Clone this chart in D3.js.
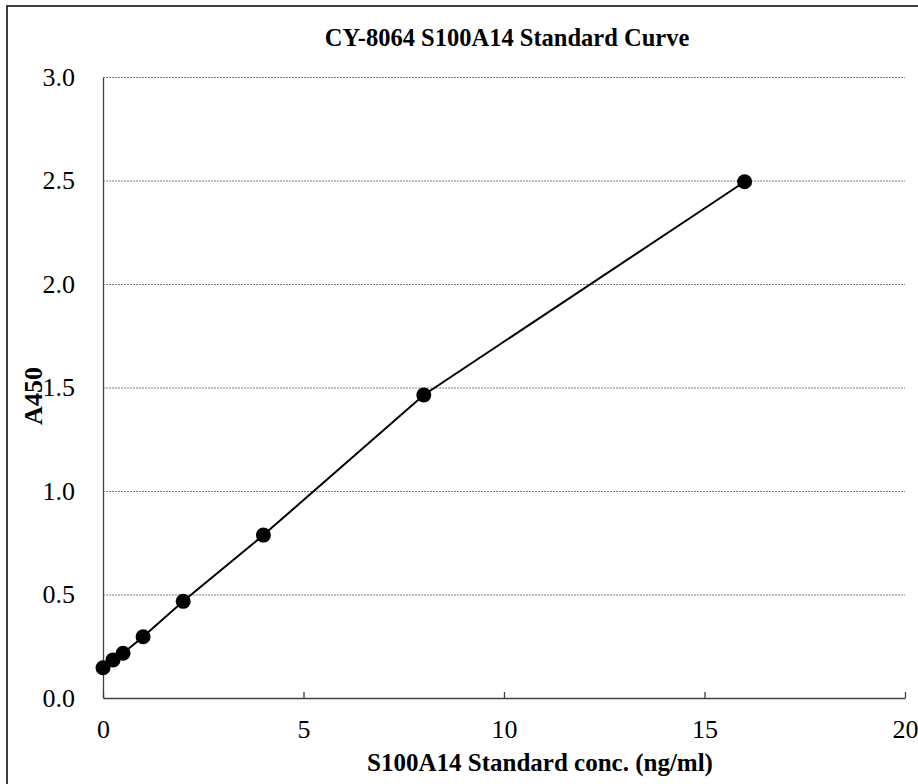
<!DOCTYPE html>
<html>
<head>
<meta charset="utf-8">
<script src="https://cdn.jsdelivr.net/npm/d3@7"></script>
<style>
  html, body { margin: 0; padding: 0; background: #fff; }
  svg text { font-family: "Liberation Serif", "Times New Roman", serif; fill: #000; }
</style>
</head>
<body>
<div id="chart"></div>
<script>
const conc = [0, 0.25, 0.5, 1, 2, 4, 8, 16];
const a450 = [0.146, 0.184, 0.216, 0.296, 0.467, 0.787, 1.464, 2.494];
const xTicks = [0, 5, 10, 15, 20];
const yTicks = [0, 0.5, 1, 1.5, 2, 2.5, 3];
const title = "CY-8064 S100A14 Standard Curve";
const xTitle = "S100A14 Standard conc. (ng/ml)";
const yTitle = "A450";

const W = 918, H = 784;
const margin = { top: 77, right: 13, bottom: 86, left: 103 };
const width = W - margin.left - margin.right;
const height = H - margin.top - margin.bottom;

const svgRoot = d3.select("#chart").append("svg").attr("width", W).attr("height", H);

// outer frame (only top and left edges fall inside the picture)
svgRoot.append("rect")
  .attr("x", 7).attr("y", 6).attr("width", W + 20).attr("height", H + 20)
  .attr("fill", "none").attr("stroke", "#000").attr("stroke-width", 1.5);

const svg = svgRoot.append("g").attr("transform", `translate(${margin.left},${margin.top})`);

const x = d3.scaleLinear().domain([0, 20]).range([0, width]);
const y = d3.scaleLinear().domain([0, 3]).range([height, 0]);

// gridlines
svg.append("g")
  .call(d3.axisLeft(y).tickValues(yTicks.slice(1)).tickSize(-width).tickFormat(""))
  .call((g) => g.select(".domain").remove())
  .selectAll("line")
  .attr("stroke", "#7f7f7f")
  .attr("stroke-dasharray", "2,1");

// y axis
const yAxisG = svg.append("g")
  .call(d3.axisLeft(y).tickValues(yTicks).tickSize(0).tickPadding(28).tickFormat(d3.format(".1f")));
yAxisG.select(".domain").attr("stroke", "#404040").attr("stroke-width", 1.3);
yAxisG.selectAll("text").style("font-size", "26px");

// x axis
const xAxisG = svg.append("g")
  .attr("transform", `translate(0,${height})`)
  .call(d3.axisBottom(x).tickValues(xTicks).tickSizeInner(-6).tickSizeOuter(0).tickPadding(22));
xAxisG.select(".domain").attr("stroke", "#404040").attr("stroke-width", 1.3);
xAxisG.selectAll(".tick line").attr("stroke", "#404040").attr("stroke-width", 1.3);
xAxisG.selectAll("text").style("font-size", "26px");

const pts = conc.map((c, i) => ({ c, v: a450[i] }));

svg.append("path")
  .datum(pts)
  .attr("fill", "none")
  .attr("stroke", "#000")
  .attr("stroke-width", 2)
  .attr("d", d3.line().x((d) => x(d.c)).y((d) => y(d.v)));

svg.selectAll(".dot")
  .data(pts)
  .join("circle")
  .attr("class", "dot")
  .attr("cx", (d) => x(d.c))
  .attr("cy", (d) => y(d.v))
  .attr("r", 7.5)
  .attr("fill", "#000");

svgRoot.append("text")
  .attr("x", 507).attr("y", 46)
  .attr("text-anchor", "middle")
  .style("font-size", "24.5px").style("font-weight", "bold")
  .text(title);

svgRoot.append("text")
  .attr("x", 540).attr("y", 771)
  .attr("text-anchor", "middle")
  .style("font-size", "25px").style("font-weight", "bold")
  .text(xTitle);

svgRoot.append("text")
  .attr("transform", "translate(42,396) rotate(-90)")
  .attr("text-anchor", "middle")
  .style("font-size", "26px").style("font-weight", "bold")
  .text(yTitle);
</script>
</body>
</html>
